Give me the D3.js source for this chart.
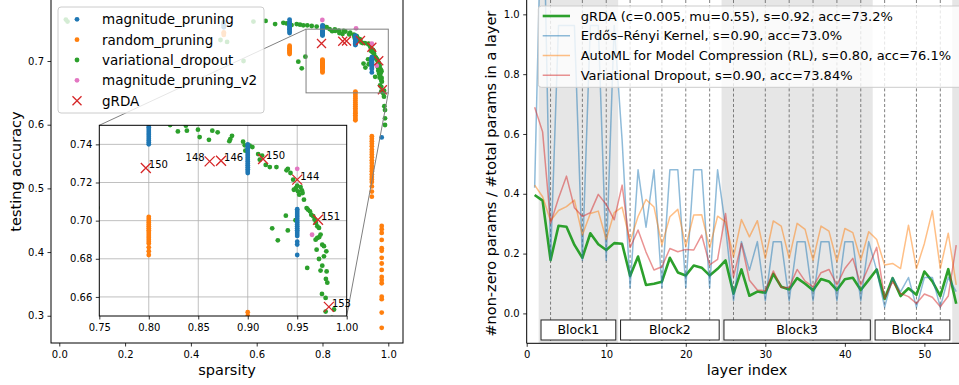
<!DOCTYPE html>
<html>
<head>
<meta charset="utf-8">
<script src="https://cdn.jsdelivr.net/npm/d3@7"></script>
<style>
  body { margin: 0; background: #fff; }
  text { font-family: 'DejaVu Sans', sans-serif; }
</style>
</head>
<body>
<svg id="chart" width="959" height="385"></svg>
<script>
// ---------- left panel data (sparsity vs testing accuracy) ----------
const magnitudeCols = [
  [0.5, [0.753, 0.755, 0.757, 0.759, 0.761]],
  [0.7, [0.744, 0.746, 0.749, 0.750, 0.752, 0.754, 0.755, 0.757, 0.758, 0.760, 0.762, 0.765]],
  [0.8, [0.740, 0.741, 0.742, 0.743, 0.744, 0.745, 0.746, 0.747, 0.748, 0.749, 0.750, 0.752, 0.754, 0.756]],
  [0.9, [0.725, 0.726, 0.727, 0.728, 0.729, 0.730, 0.731, 0.732, 0.733, 0.734, 0.735, 0.736, 0.737, 0.738, 0.739, 0.740]],
  [0.95, [0.682, 0.6875, 0.689, 0.692, 0.693, 0.694, 0.695, 0.696, 0.697, 0.698, 0.699, 0.700, 0.701, 0.702, 0.703, 0.704, 0.705, 0.706]],
  [0.98, [0.58]],
];
const randomCols = [
  [0.5, [0.741, 0.743, 0.745]],
  [0.7, [0.711, 0.713, 0.714, 0.716, 0.717, 0.719, 0.720, 0.722, 0.724]],
  [0.8, [0.682, 0.684, 0.686, 0.688, 0.689, 0.690, 0.691, 0.692, 0.693, 0.694, 0.695, 0.696, 0.697, 0.698, 0.699, 0.700, 0.701, 0.702]],
  [0.9, [0.607, 0.609, 0.612, 0.615, 0.618, 0.620, 0.623, 0.626, 0.629, 0.632, 0.635, 0.638, 0.641, 0.644, 0.647, 0.650, 0.652]],
  [0.95, [0.487, 0.495, 0.503, 0.510, 0.514, 0.518, 0.522, 0.527, 0.531, 0.535, 0.540, 0.544, 0.549, 0.553, 0.557, 0.561, 0.566, 0.570, 0.574, 0.578, 0.582]],
  [0.98, [0.281, 0.305, 0.326, 0.330, 0.351, 0.356, 0.361, 0.372, 0.382, 0.391, 0.402, 0.406, 0.419, 0.430, 0.436, 0.441]],
];
const dropoutPoints = [
  [0.02, 0.765], [0.025, 0.762], [0.49, 0.733], [0.51, 0.73], [0.56, 0.70], [0.59, 0.762],
  [0.627, 0.763], [0.656, 0.758], [0.681, 0.760], [0.691, 0.759], [0.706, 0.7565], [0.7215, 0.758],
  [0.7316, 0.757], [0.7417, 0.756], [0.7538, 0.756], [0.7672, 0.755], [0.7823, 0.754], [0.8024, 0.755],
  [0.8127, 0.753], [0.7265, 0.699], [0.737, 0.6885], [0.748, 0.7068],
  [0.8216, 0.7501], [0.8375, 0.7498], [0.8385, 0.7472], [0.8294, 0.7468], [0.8497, 0.7477], [0.8514, 0.7438],
  [0.8608, 0.7424], [0.8642, 0.7472], [0.8696, 0.7463], [0.8824, 0.7428], [0.8841, 0.7445], [0.8814, 0.7417],
  [0.8953, 0.7414], [0.897, 0.7395], [0.8976, 0.7367], [0.9047, 0.7386], [0.902, 0.7393], [0.9122, 0.732],
  [0.9182, 0.7292], [0.9105, 0.7349], [0.9145, 0.7341], [0.9223, 0.7281], [0.929, 0.7281], [0.9392, 0.7264],
  [0.9405, 0.7271], [0.9432, 0.725], [0.9459, 0.7215], [0.9466, 0.7162], [0.9486, 0.7171], [0.95, 0.7183],
  [0.9507, 0.7154], [0.952, 0.7136], [0.9534, 0.7176], [0.9547, 0.7159], [0.9554, 0.7145], [0.9568, 0.711],
  [0.9595, 0.7066], [0.9608, 0.7058], [0.9628, 0.7049], [0.9642, 0.7031], [0.9662, 0.7023], [0.9676, 0.7005],
  [0.9689, 0.6988], [0.9703, 0.697], [0.972, 0.6962], [0.9703, 0.6909], [0.9686, 0.69], [0.9723, 0.6914],
  [0.9736, 0.6927], [0.9753, 0.6874], [0.977, 0.6866], [0.9696, 0.6848], [0.972, 0.6799], [0.9794, 0.6839],
  [0.977, 0.6813], [0.9753, 0.6764], [0.9797, 0.6734], [0.979, 0.6694], [0.9736, 0.6738], [0.9804, 0.6675],
  [0.975, 0.6616], [0.9787, 0.6595], [0.9872, 0.6534], [0.9787, 0.6523], [0.9601, 0.6752], [0.9304, 0.6897],
  [0.9247, 0.696], [0.9405, 0.6949], [0.9483, 0.7002], [0.9385, 0.7026],
  [0.985, 0.649], [0.987, 0.644], [0.988, 0.629], [0.99, 0.623], [0.99, 0.61], [0.99, 0.5995],
];
const magnitudeV2Points = [[0.7995, 0.7644], [0.902, 0.7513], [0.95, 0.7272], [0.965, 0.6926]];
const grdaPoints = [[0.797, 0.7276], [0.8615, 0.7311], [0.873, 0.7314], [0.9155, 0.7323], [0.95, 0.7215], [0.971, 0.7005], [0.982, 0.6548]];
const grdaEpochs = ['150', '148', '146', '150', '144', '151', '153'];

const sparsityTicks = [0.0, 0.2, 0.4, 0.6, 0.8, 1.0];
const accuracyTicks = [0.3, 0.4, 0.5, 0.6, 0.7];
const insetXTicks = [0.75, 0.80, 0.85, 0.90, 0.95, 1.00];
const insetYTicks = [0.66, 0.68, 0.70, 0.72, 0.74];

// ---------- right panel data (layer-wise density) ----------
const layerIndex = d3.range(1, 55);
const grdaDensity = [
  0.396, 0.377, 0.178, 0.293, 0.29, 0.229, 0.186, 0.268, 0.231, 0.212, 0.235, 0.233,
  0.125, 0.19, 0.095, 0.099, 0.106, 0.186, 0.137, 0.127, 0.16, 0.153, 0.127, 0.149,
  0.177, 0.066, 0.147, 0.059, 0.073, 0.069, 0.132, 0.089, 0.08, 0.118, 0.099, 0.077, 0.115, 0.107, 0.078, 0.114, 0.119, 0.078, 0.112,
  0.147, 0.048, 0.118, 0.058, 0.084, 0.062, 0.14, 0.107, 0.058, 0.148, 0.032,
];
const erkDensity = [
  0.42, 1.55, 0.178, 0.963, 0.963, 0.963, 0.178, 0.963, 0.963, 0.178, 0.963, 0.577,
  0.087, 0.48, 0.288, 0.48, 0.087, 0.48, 0.48, 0.087, 0.48, 0.48, 0.087, 0.48,
  0.288, 0.043, 0.24, 0.144, 0.24, 0.043, 0.24, 0.24, 0.043, 0.24, 0.24, 0.043, 0.24, 0.24, 0.043, 0.24, 0.24, 0.043, 0.24,
  0.144, 0.021, 0.12, 0.072, 0.12, 0.021, 0.12, 0.12, 0.021, 0.12, 0.073,
];
const amcDensity = [
  0.429, 0.39, 0.31, 0.344, 0.357, 0.379, 0.262, 0.334, 0.342, 0.247, 0.337, 0.355,
  0.24, 0.324, 0.381, 0.356, 0.229, 0.323, 0.348, 0.224, 0.329, 0.33, 0.219, 0.325,
  0.306, 0.189, 0.314, 0.256, 0.31, 0.184, 0.309, 0.292, 0.184, 0.301, 0.281, 0.178, 0.292, 0.275, 0.173, 0.284, 0.27, 0.178, 0.273,
  0.247, 0.162, 0.167, 0.15, 0.295, 0.15, 0.234, 0.343, 0.15, 0.268, 0.095,
];
const vdDensity = [
  0.689, 0.607, 0.301, 0.385, 0.459, 0.353, 0.324, 0.337, 0.398, 0.364, 0.313, 0.429,
  0.22, 0.279, 0.205, 0.145, 0.156, 0.217, 0.206, 0.214, 0.212, 0.262, 0.162, 0.181,
  0.334, 0.122, 0.234, 0.111, 0.078, 0.076, 0.142, 0.087, 0.087, 0.147, 0.108, 0.089, 0.136, 0.147, 0.095, 0.15, 0.184, 0.095, 0.156,
  0.221, 0.05, 0.106, 0.067, 0.056, 0.033, 0.065, 0.054, 0.022, 0.058, 0.228,
];
const blockNames = ['Block1', 'Block2', 'Block3', 'Block4'];
const blockEdges = [1.5, 11.5, 24.5, 43.5, 53.5];
const shadedSpans = [[1.5, 11.5], [24.5, 43.5], [53.5, 60]];
const dashedLayers = [3, 7, 10, 13, 17, 20, 23, 26, 30, 33, 36, 39, 42, 45, 49, 52];
const layerTicks = [0, 10, 20, 30, 40, 50];
const densityTicks = [0.0, 0.2, 0.4, 0.6, 0.8, 1.0];

const colors = { blue: '#1f77b4', orange: '#ff7f0e', green: '#2ca02c', pink: '#e377c2', red: '#d62728' };
const tickFont = 10;
const labelFont = 14.5;

const svg = d3.select('#chart');
const defs = svg.append('defs');

const toPoints = (cols) => cols.flatMap(([x, ys]) => ys.map((y) => [x, y]));
const scatterSets = [
  { key: 'variational_dropout', points: dropoutPoints, color: colors.green },
  { key: 'magnitude_pruning', points: toPoints(magnitudeCols), color: colors.blue },
  { key: 'random_pruning', points: toPoints(randomCols), color: colors.orange },
  { key: 'magnitude_pruning_v2', points: magnitudeV2Points, color: colors.pink },
];

const crossPath = (s) => `M${-s},${-s}L${s},${s}M${-s},${s}L${s},${-s}`;

const styleAxis = (g) => {
  g.select('.domain').remove();
  g.attr('font-family', null).attr('font-size', null);
  g.selectAll('text').attr('font-size', tickFont).attr('fill', '#000');
  g.selectAll('line').attr('stroke', '#000').attr('stroke-width', 0.8);
};

const addClip = (id, x, y, w, h) => {
  defs.append('clipPath').attr('id', id).append('rect').attr('x', x).attr('y', y).attr('width', w).attr('height', h);
};

const drawPoints = (g, x, y, r, crossSize) => {
  scatterSets.forEach((set) => {
    g.append('g')
      .selectAll('circle')
      .data(set.points)
      .join('circle')
      .attr('cx', (d) => x(d[0]))
      .attr('cy', (d) => y(d[1]))
      .attr('r', r)
      .attr('fill', set.color);
  });
  g.append('g')
    .selectAll('path')
    .data(grdaPoints)
    .join('path')
    .attr('transform', (d) => `translate(${x(d[0])},${y(d[1])})`)
    .attr('d', crossPath(crossSize))
    .attr('stroke', colors.red)
    .attr('stroke-width', 1.3)
    .attr('fill', 'none');
};

const isLeftLabel = (i) => grdaEpochs[i] === '148';

// ================= LEFT PANEL =================
const xL = d3.scaleLinear().domain([-0.0252, 1.0447]).range([51, 403]);
const yL = d3.scaleLinear().domain([0.2572, 0.7958]).range([343, 0]);
const [l0, l1] = xL.range();
const [b0, t0] = yL.range();
addClip('clipL', l0, t0, l1 - l0, b0 - t0);

const left = svg.append('g');
drawPoints(left.append('g').attr('clip-path', 'url(#clipL)'), xL, yL, 2.4, 4.5);

// zoom rectangle + connectors
const zoomBox = { x0: 0.75, x1: 1.0, y0: 0.65, y1: 0.75 };
left.append('rect')
  .attr('x', xL(zoomBox.x0)).attr('y', yL(zoomBox.y1))
  .attr('width', xL(zoomBox.x1) - xL(zoomBox.x0)).attr('height', yL(zoomBox.y0) - yL(zoomBox.y1))
  .attr('fill', 'none').attr('stroke', '#808080').attr('stroke-width', 1);

// inset axes
const xI = d3.scaleLinear().domain([zoomBox.x0, zoomBox.x1]).range([99.3, 346.7]);
const yI = d3.scaleLinear().domain([zoomBox.y0, zoomBox.y1]).range([316, 125.3]);

left.append('line')
  .attr('x1', xL(zoomBox.x0)).attr('y1', yL(zoomBox.y1)).attr('x2', xI(zoomBox.x0)).attr('y2', yI(zoomBox.y1))
  .attr('stroke', '#808080').attr('stroke-width', 1);
left.append('line')
  .attr('x1', xL(zoomBox.x1)).attr('y1', yL(zoomBox.y0)).attr('x2', xI(zoomBox.x1)).attr('y2', yI(zoomBox.y0))
  .attr('stroke', '#808080').attr('stroke-width', 1);

const inset = left.append('g');
inset.append('rect')
  .attr('x', xI.range()[0]).attr('y', yI.range()[1])
  .attr('width', xI.range()[1] - xI.range()[0]).attr('height', yI.range()[0] - yI.range()[1])
  .attr('fill', '#fff');
inset.append('g').selectAll('line').data(insetXTicks.slice(1, -1)).join('line')
  .attr('x1', (d) => xI(d)).attr('x2', (d) => xI(d)).attr('y1', yI.range()[0]).attr('y2', yI.range()[1])
  .attr('stroke', '#b0b0b0').attr('stroke-width', 0.8);
inset.append('g').selectAll('line').data(insetYTicks).join('line')
  .attr('y1', (d) => yI(d)).attr('y2', (d) => yI(d)).attr('x1', xI.range()[0]).attr('x2', xI.range()[1])
  .attr('stroke', '#b0b0b0').attr('stroke-width', 0.8);
addClip('clipI', xI.range()[0], yI.range()[1], xI.range()[1] - xI.range()[0], yI.range()[0] - yI.range()[1]);
drawPoints(inset.append('g').attr('clip-path', 'url(#clipI)'), xI, yI, 2.4, 5);
inset.append('rect')
  .attr('x', xI.range()[0]).attr('y', yI.range()[1])
  .attr('width', xI.range()[1] - xI.range()[0]).attr('height', yI.range()[0] - yI.range()[1])
  .attr('fill', 'none').attr('stroke', '#000').attr('stroke-width', 1);
// epoch annotations (not clipped, they run past the inset frame)
inset.append('g')
  .selectAll('text')
  .data(grdaPoints)
  .join('text')
  .attr('x', (d, i) => xI(d[0]) + (isLeftLabel(i) ? -5 : 3))
  .attr('y', (d) => yI(d[1]))
  .attr('text-anchor', (d, i) => (isLeftLabel(i) ? 'end' : 'start'))
  .attr('font-size', 10)
  .text((d, i) => grdaEpochs[i]);
inset.append('g').attr('transform', `translate(0,${yI.range()[0]})`)
  .call(d3.axisBottom(xI).tickValues(insetXTicks).tickFormat(d3.format('.2f')).tickSize(3.5).tickPadding(4))
  .call(styleAxis);
inset.append('g').attr('transform', `translate(${xI.range()[0]},0)`)
  .call(d3.axisLeft(yI).tickValues(insetYTicks).tickFormat(d3.format('.2f')).tickSize(3.5).tickPadding(3.5))
  .call(styleAxis);

// main frame + axes
left.append('rect')
  .attr('x', l0).attr('y', t0 - 1).attr('width', l1 - l0).attr('height', b0 - t0 + 1)
  .attr('fill', 'none').attr('stroke', '#000').attr('stroke-width', 1);
left.append('g').attr('transform', `translate(0,${b0})`)
  .call(d3.axisBottom(xL).tickValues(sparsityTicks).tickFormat(d3.format('.1f')).tickSize(3.5).tickPadding(4.5))
  .call(styleAxis);
left.append('g').attr('transform', `translate(${l0},0)`)
  .call(d3.axisLeft(yL).tickValues(accuracyTicks).tickFormat(d3.format('.1f')).tickSize(3.5).tickPadding(3.5))
  .call(styleAxis);
left.append('text').attr('x', (l0 + l1) / 2).attr('y', 375).attr('text-anchor', 'middle')
  .attr('font-size', labelFont).text('sparsity');
left.append('text').attr('transform', `translate(16,${(t0 + b0) / 2}) rotate(-90)`)
  .attr('text-anchor', 'middle').attr('dominant-baseline', 'central')
  .attr('font-size', labelFont).text('testing accuracy');

// left legend
const leftLegend = left.append('g');
leftLegend.append('rect').attr('x', 58).attr('y', 7).attr('width', 206).attr('height', 106).attr('rx', 3)
  .attr('fill', '#fff').attr('fill-opacity', 0.8).attr('stroke', '#cccccc').attr('stroke-width', 1);
const leftLegendItems = [
  { label: 'magnitude_pruning', color: colors.blue, cross: false },
  { label: 'random_pruning', color: colors.orange, cross: false },
  { label: 'variational_dropout', color: colors.green, cross: false },
  { label: 'magnitude_pruning_v2', color: colors.pink, cross: false },
  { label: 'gRDA', color: colors.red, cross: true },
];
leftLegendItems.forEach((item, i) => {
  const row = leftLegend.append('g').attr('transform', `translate(77,${19.3 + i * 20.35})`);
  if (item.cross) {
    row.append('path').attr('d', crossPath(4.5)).attr('stroke', item.color).attr('stroke-width', 1.3).attr('fill', 'none');
  } else {
    row.append('circle').attr('r', 2.4).attr('fill', item.color);
  }
  row.append('text').attr('x', 25).attr('dominant-baseline', 'central').attr('font-size', 13.5).text(item.label);
});

// ================= RIGHT PANEL =================
const xR = d3.scaleLinear().domain([0, 54.35]).range([526.7, 959]);
const yR = d3.scaleLinear().domain([-0.1, 1.048]).range([343.3, 0]);
const [r0, r1] = xR.range();
const [rb, rt] = yR.range();
addClip('clipR', r0, rt, r1 - r0, rb - rt);

const right = svg.append('g');
const plotR = right.append('g').attr('clip-path', 'url(#clipR)');

plotR.append('g').selectAll('rect').data(shadedSpans).join('rect')
  .attr('x', (d) => xR(d[0])).attr('width', (d) => xR(d[1]) - xR(d[0]))
  .attr('y', rt).attr('height', rb - rt)
  .attr('fill', '#e6e6e6');

plotR.append('g').selectAll('line').data(dashedLayers).join('line')
  .attr('x1', (d) => xR(d)).attr('x2', (d) => xR(d)).attr('y1', rt).attr('y2', rb)
  .attr('stroke', '#606060').attr('stroke-width', 0.8).attr('stroke-dasharray', '3,2.2');

const lineSeries = [
  { label: 'gRDA (c=0.005, mu=0.55), s=0.92, acc=73.2%', values: grdaDensity, color: colors.green, width: 2.6, opacity: 1 },
  { label: 'Erdős–Rényi Kernel, s=0.90, acc=73.0%', values: erkDensity, color: colors.blue, width: 1.5, opacity: 0.5 },
  { label: 'AutoML for Model Compression (RL), s=0.80, acc=76.1%', values: amcDensity, color: colors.orange, width: 1.5, opacity: 0.5 },
  { label: 'Variational Dropout, s=0.90, acc=73.84%', values: vdDensity, color: colors.red, width: 1.5, opacity: 0.5 },
];
const densityLine = d3.line().x((d, i) => xR(layerIndex[i])).y((d) => yR(d));
plotR.append('g').selectAll('path').data(lineSeries).join('path')
  .attr('d', (s) => densityLine(s.values))
  .attr('fill', 'none')
  .attr('stroke', (s) => s.color)
  .attr('stroke-width', (s) => s.width)
  .attr('stroke-opacity', (s) => s.opacity)
  .attr('stroke-linejoin', 'round');

// block labels
const blocks = blockNames.map((name, i) => ({ name, start: blockEdges[i], end: blockEdges[i + 1] }));
const blockBox = plotR.append('g').selectAll('g').data(blocks).join('g');
blockBox.append('rect')
  .attr('x', (b) => xR(b.start + 0.3)).attr('width', (b) => xR(b.end - 0.3) - xR(b.start + 0.3))
  .attr('y', yR(-0.022)).attr('height', yR(-0.089) - yR(-0.022))
  .attr('fill', '#fff').attr('stroke', '#222').attr('stroke-width', 1);
blockBox.append('text')
  .attr('x', (b) => (xR(b.start + 0.3) + xR(b.end - 0.3)) / 2)
  .attr('y', yR(-0.0555))
  .attr('text-anchor', 'middle').attr('dominant-baseline', 'central')
  .attr('font-size', 12.5).text((b) => b.name);

// spines + axes
right.append('line').attr('x1', r0).attr('x2', r0).attr('y1', rt).attr('y2', rb).attr('stroke', '#000').attr('stroke-width', 1);
right.append('line').attr('x1', r0).attr('x2', r1).attr('y1', rb).attr('y2', rb).attr('stroke', '#000').attr('stroke-width', 1);
right.append('g').attr('transform', `translate(0,${rb})`)
  .call(d3.axisBottom(xR).tickValues(layerTicks).tickSize(3.5).tickPadding(4.5))
  .call(styleAxis);
right.append('g').attr('transform', `translate(${r0},0)`)
  .call(d3.axisLeft(yR).tickValues(densityTicks).tickFormat(d3.format('.1f')).tickSize(3.5).tickPadding(3.5))
  .call(styleAxis);
right.append('text').attr('x', 747).attr('y', 375).attr('text-anchor', 'middle')
  .attr('font-size', labelFont).text('layer index');
right.append('text').attr('transform', `translate(491,${(rt + rb) / 2 + 2}) rotate(-90)`)
  .attr('text-anchor', 'middle').attr('dominant-baseline', 'central')
  .attr('font-size', labelFont).text('#non-zero params / #total params in a layer');

// right legend
const rightLegend = right.append('g');
rightLegend.append('rect').attr('x', 538.3).attr('y', 6).attr('width', 440).attr('height', 81.3).attr('rx', 3)
  .attr('fill', '#fff').attr('fill-opacity', 0.8).attr('stroke', '#cccccc').attr('stroke-width', 1);
lineSeries.forEach((s, i) => {
  const row = rightLegend.append('g').attr('transform', `translate(0,${16 + i * 19.75})`);
  row.append('line').attr('x1', 542.7).attr('x2', 570).attr('stroke', s.color)
    .attr('stroke-width', s.width).attr('stroke-opacity', s.opacity);
  row.append('text').attr('x', 580.7).attr('dominant-baseline', 'central').attr('font-size', 13).text(s.label);
});
</script>
</body>
</html>
